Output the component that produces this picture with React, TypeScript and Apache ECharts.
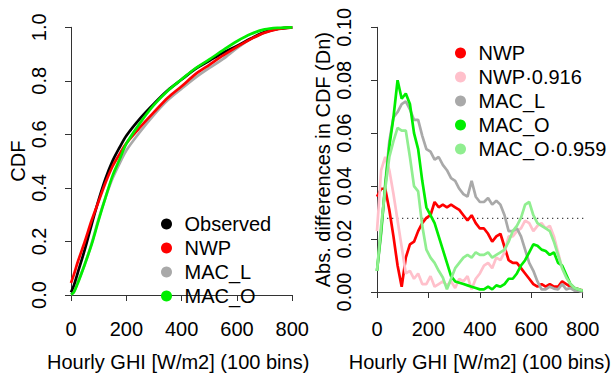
import React, { useEffect, useRef } from "react";
import * as echarts from "echarts";

// ---- Left panel: empirical CDFs ----
const cdfX = [0, 10, 25, 50, 75, 100, 125, 150, 175, 200, 250, 300, 350, 400, 450, 500, 550, 600, 650, 700, 750, 800];
const cdfObserved = [0.01, 0.035, 0.085, 0.17, 0.265, 0.355, 0.435, 0.5, 0.55, 0.595, 0.66, 0.715, 0.765, 0.805, 0.845, 0.875, 0.905, 0.93, 0.958, 0.982, 0.995, 1.0];
const cdfNWP = [0.045, 0.075, 0.125, 0.2, 0.28, 0.35, 0.42, 0.48, 0.525, 0.567, 0.627, 0.683, 0.737, 0.78, 0.825, 0.86, 0.895, 0.927, 0.956, 0.98, 0.994, 1.0];
const cdfMACL = [0.002, 0.01, 0.05, 0.115, 0.195, 0.285, 0.365, 0.435, 0.49, 0.54, 0.61, 0.673, 0.728, 0.771, 0.812, 0.848, 0.882, 0.922, 0.957, 0.981, 0.994, 1.0];
const cdfMACO = [0.002, 0.01, 0.045, 0.115, 0.19, 0.28, 0.365, 0.445, 0.505, 0.565, 0.643, 0.71, 0.763, 0.806, 0.847, 0.88, 0.915, 0.948, 0.975, 0.992, 0.998, 1.0];

// ---- Right panel: absolute CDF differences (Dn) ----
const dnX = [0, 16, 32, 48, 64, 80, 96, 112, 128, 144, 160, 176, 192, 208, 224, 240, 256, 272, 288, 304, 320, 336, 352, 368, 384, 400, 416, 432, 448, 464, 480, 496, 512, 528, 544, 560, 576, 592, 608, 624, 640, 656, 672, 688, 704, 720, 736, 752, 768, 784, 800];
const dnNWP = [0.036, 0.039, 0.039, 0.031, 0.021, 0.01, 0.002, 0.013, 0.018, 0.019, 0.023, 0.026, 0.028, 0.029, 0.034, 0.032, 0.033, 0.032, 0.033, 0.032, 0.031, 0.029, 0.027, 0.029, 0.026, 0.024, 0.024, 0.022, 0.019, 0.021, 0.022, 0.017, 0.012, 0.011, 0.011, 0.009, 0.007, 0.005, 0.003, 0.002, 0.003, 0.002, 0.003, 0.002, 0.002, 0.004, 0.003, 0.002, 0.0015, 0.001, 0.0005];
const dnNWPs = [0.023, 0.046, 0.051, 0.046, 0.037, 0.027, 0.017, 0.007, 0.008, 0.005, 0.007, 0.003, 0.003, 0.006, 0.002, 0.003, 0.004, 0.0025, 0.004, 0.0015, 0.005, 0.004, 0.006, 0.001, 0.005, 0.007, 0.01, 0.011, 0.009, 0.013, 0.012, 0.015, 0.021, 0.021, 0.023, 0.024, 0.027, 0.026, 0.023, 0.025, 0.026, 0.024, 0.025, 0.021, 0.015, 0.009, 0.006, 0.003, 0.0015, 0.001, 0.0007];
const dnMACL = [0.008, 0.022, 0.041, 0.057, 0.066, 0.068, 0.071, 0.072, 0.069, 0.065, 0.065, 0.059, 0.054, 0.053, 0.05, 0.051, 0.048, 0.046, 0.043, 0.042, 0.039, 0.037, 0.036, 0.042, 0.036, 0.034, 0.034, 0.0355, 0.033, 0.0345, 0.033, 0.029, 0.023, 0.023, 0.024, 0.021, 0.016, 0.011, 0.008, 0.004, 0.001, 0.001, 0.002, 0.0013, 0.001, 0.003, 0.001, 0.0015, 0.0005, 0.0005, 0.0];
const dnMACO = [0.008, 0.023, 0.04, 0.055, 0.066, 0.08, 0.073, 0.075, 0.071, 0.06, 0.054, 0.042, 0.032, 0.029, 0.026, 0.021, 0.016, 0.011, 0.006, 0.004, 0.0035, 0.003, 0.0025, 0.002, 0.0015, 0.001, 0.001, 0.002, 0.001, 0.0025, 0.002, 0.003, 0.005, 0.005, 0.007, 0.01, 0.012, 0.015, 0.018, 0.0175, 0.016, 0.0155, 0.014, 0.015, 0.011, 0.01, 0.0065, 0.003, 0.0015, 0.001, 0.0005];
const dnMACOs = [0.008, 0.025, 0.039, 0.051, 0.057, 0.062, 0.061, 0.061, 0.051, 0.04, 0.038, 0.025, 0.016, 0.013, 0.011, 0.008, 0.0055, 0.001, 0.005, 0.009, 0.011, 0.013, 0.014, 0.013, 0.015, 0.014, 0.014, 0.015, 0.013, 0.014, 0.015, 0.016, 0.019, 0.023, 0.025, 0.028, 0.033, 0.034, 0.029, 0.026, 0.025, 0.024, 0.023, 0.019, 0.014, 0.009, 0.0055, 0.003, 0.0015, 0.001, 0.0005];
const dnCritical = 0.0278;
const critX = [0, 828];

const leftLegend = ["Observed", "NWP", "MAC_L", "MAC_O"];
const rightLegend = ["NWP", "NWP\u00B70.916", "MAC_L", "MAC_O", "MAC_O\u00B70.959"];
const xTitle = "Hourly GHI [W/m2] (100 bins)";

const FONT = "'Liberation Sans', Arial, Helvetica, sans-serif";
const LW = 2.7;

const pairs = (xs: number[], ys: number[]) => xs.map((x, i) => [x, ys[i]]);

export default function App() {
  const ref = useRef<HTMLDivElement>(null);
  useEffect(() => {
    if (!ref.current) return;
    const chart = echarts.init(ref.current, undefined, { renderer: "svg" });
    const txt = { fontFamily: FONT, fontSize: 20, color: "#000" };
    const axisLine = { show: true, lineStyle: { color: "#333", width: 1 } };
    const axisTick = { show: true, length: 6, lineStyle: { color: "#333", width: 1 } };
    const line = (name: string, xi: number, yi: number, data: number[][], color: string, extra: any = {}) => ({
      name,
      type: "line",
      xAxisIndex: xi,
      yAxisIndex: yi,
      data,
      showSymbol: false,
      symbol: "none",
      clip: false,
      lineStyle: { color, width: LW },
      itemStyle: { color },
      ...extra,
    });
    chart.setOption({
      animation: false,
      backgroundColor: "#fff",
      textStyle: { fontFamily: FONT },
      grid: [
        { left: 71, top: 27.3, width: 221.3, height: 284.4, containLabel: false },
        { left: 377, top: 27.3, width: 221, height: 281.4, containLabel: false },
      ],
      xAxis: [
        {
          type: "value", gridIndex: 0, min: 0, max: 800, interval: 200, offset: 10,
          axisLine, axisTick, splitLine: { show: false },
          axisLabel: { ...txt, margin: 14 },
          name: xTitle, nameLocation: "middle", nameGap: 47,
          nameTextStyle: { ...txt, padding: [0, 7, 0, 0] },
        },
        {
          type: "value", gridIndex: 1, min: 0, max: 800, interval: 200, offset: 13,
          axisLine, axisTick, splitLine: { show: false },
          axisLabel: { ...txt, margin: 14 },
          name: xTitle, nameLocation: "middle", nameGap: 47,
          nameTextStyle: { ...txt },
        },
      ],
      yAxis: [
        {
          type: "value", gridIndex: 0, min: 0, max: 1, interval: 0.2, offset: 8.5,
          axisLine, axisTick, splitLine: { show: false },
          axisLabel: { ...txt, rotate: 90, margin: 14, formatter: (v: number) => v.toFixed(1) },
          name: "CDF", nameLocation: "middle", nameGap: 34, nameRotate: 90,
          nameTextStyle: { ...txt },
        },
        {
          type: "value", gridIndex: 1, min: 0, max: 0.1, interval: 0.02, offset: 9.3,
          axisLine, axisTick, splitLine: { show: false },
          axisLabel: { ...txt, rotate: 90, margin: 14, formatter: (v: number) => v.toFixed(2) },
          name: "Abs. differences in CDF (Dn)", nameLocation: "middle", nameGap: 25, nameRotate: 90,
          nameTextStyle: { ...txt },
        },
      ],
      legend: [
        {
          data: leftLegend.map((n) => ({ name: n })),
          orient: "vertical", left: 156, top: 209, icon: "circle",
          itemWidth: 26, itemHeight: 11, itemGap: 4,
          textStyle: { ...txt }, selectedMode: false,
        },
        {
          data: rightLegend.map((n) => ({ name: n })),
          orient: "vertical", left: 450, top: 38, icon: "circle",
          itemWidth: 26, itemHeight: 11, itemGap: 4,
          textStyle: { ...txt }, selectedMode: false,
        },
      ],
      series: [
        line("MAC_L", 0, 0, pairs(cdfX, cdfMACL), "#A9A9A9", { smooth: 0.3 }),
        line("Observed", 0, 0, pairs(cdfX, cdfObserved), "#000000", { smooth: 0.3 }),
        line("NWP", 0, 0, pairs(cdfX, cdfNWP), "#FF0000", { smooth: 0.3 }),
        line("MAC_O", 0, 0, pairs(cdfX, cdfMACO), "#00EE00", { smooth: 0.3 }),
        {
          name: "critical", type: "line", xAxisIndex: 1, yAxisIndex: 1,
          data: critX.map((x) => [x, dnCritical]), showSymbol: false, symbol: "none", clip: false,
          lineStyle: { color: "#444", width: 1.2, type: [1.3, 3.7] }, silent: true,
        },
        line("NWP", 1, 1, pairs(dnX, dnNWP), "#FF0000"),
        line("NWP\u00B70.916", 1, 1, pairs(dnX, dnNWPs), "#FFC0CB"),
        line("MAC_L", 1, 1, pairs(dnX, dnMACL), "#A9A9A9"),
        line("MAC_O", 1, 1, pairs(dnX, dnMACO), "#00EE00"),
        line("MAC_O\u00B70.959", 1, 1, pairs(dnX, dnMACOs), "#90EE90"),
      ],
    });
    return () => chart.dispose();
  }, []);
  return (
    <div
      ref={ref}
      style={{ position: "fixed", left: 0, top: 0, width: 614, height: 377, background: "#fff" }}
    />
  );
}
